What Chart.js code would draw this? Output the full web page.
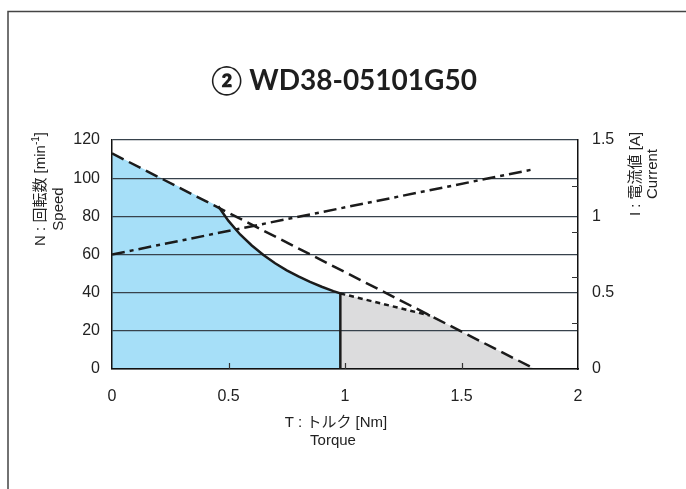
<!DOCTYPE html>
<html>
<head>
<meta charset="utf-8">
<script src="https://cdn.jsdelivr.net/npm/chart.js@4.4.1/dist/chart.umd.min.js"></script>
<style>
html, body { margin: 0; padding: 0; background: #fff; }
#wrap { width: 686px; height: 489px; }
</style>
</head>
<body>
<div id="wrap"><canvas id="myChart" width="686" height="489"></canvas></div>
<script>
// values
var torqueTicks = [0.5, 1, 1.5];          // small inner ticks on the x axis
var currentMinorTicks = [0.3, 0.6, 0.9, 1.2]; // small inner ticks on the right axis

var speedTorque = [0, 1.815];
var speedValues = [113, 0];

var currentTorque = [0, 1.815];
var currentValues = [0.75, 1.31];

var curveTorque = [0.456, 0.5, 0.55, 0.6, 0.65, 0.7, 0.75, 0.8, 0.85, 0.9, 0.95, 0.98, 0.98];
var curveSpeed = [85.3, 77.6, 70.5, 64.7, 59.7, 55.4, 51.7, 48.5, 45.6, 43.1, 40.8, 39.6, 0];

var dotTorque = [0.98, 1.365];
var dotSpeed = [39.6, 28];

var grayTorque = [0.98, 1.365, 1.815];
var graySpeed = [39.6, 28, 0];

function pts(xs, ys) {
	var out = [];
	for (var i = 0; i < xs.length; i++) out.push({ x: xs[i], y: ys[i] });
	return out;
}

var bluePts = [{ x: speedTorque[0], y: speedValues[0] }].concat(pts(curveTorque, curveSpeed));

var LINE = "#1b1b1b";
var TICKFONT = { family: "'Liberation Sans', Arial, sans-serif", size: 16 };

function plainLabel(v) {
	return String(v);
}

var decor = {
	id: "decor",
	beforeDraw: function (chart) {
		var c = chart.ctx;
		c.save();
		c.strokeStyle = "#444";
		c.lineWidth = 1.5;
		c.beginPath();
		c.moveTo(8, 489);
		c.lineTo(8, 11.5);
		c.lineTo(686, 11.5);
		c.stroke();
		c.restore();
	},
	afterDraw: function (chart) {
		var c = chart.ctx;
		var xs = chart.scales.x, y2 = chart.scales.y2;
		var area = chart.chartArea;
		c.save();
		// inner ticks
		c.strokeStyle = "#333";
		c.lineWidth = 1.2;
		c.beginPath();
		torqueTicks.forEach(function (t) {
			var px = Math.round(xs.getPixelForValue(t)) + 0.5;
			c.moveTo(px, area.bottom);
			c.lineTo(px, area.bottom - 6);
		});
		currentMinorTicks.forEach(function (t) {
			var py = Math.round(y2.getPixelForValue(t)) + 0.5;
			c.moveTo(area.right, py);
			c.lineTo(area.right - 6, py);
		});
		c.stroke();

		// title
		c.fillStyle = "#1e1e1e";
		c.textAlign = "center";
		c.textBaseline = "middle";
		c.font = "bold 28px Lato, 'DejaVu Sans', sans-serif";
		c.fillText("② WD38-05101G50", 344, 81);

		// x axis title
		c.fillStyle = "#222";
		c.font = "15px 'Liberation Sans', 'Noto Sans CJK JP', sans-serif";
		c.fillText("T : トルク [Nm]", 336, 423);
		c.fillText("Torque", 333, 441);

		// left axis title
		c.save();
		c.translate(41, 189);
		c.rotate(-Math.PI / 2);
		var f = "15px 'Liberation Sans', 'Noto Sans CJK JP', sans-serif";
		var fs = "10px 'Liberation Sans', sans-serif";
		c.font = f;
		var a = "N : 回転数 [min", b = "]";
		c.font = fs;
		var sw = c.measureText("-1").width;
		c.font = f;
		var w = c.measureText(a).width + sw + c.measureText(b).width;
		var x0 = -w / 2;
		c.textAlign = "left";
		c.fillText(a, x0, 0);
		x0 += c.measureText(a).width;
		c.font = fs;
		c.fillText("-1", x0, -5);
		x0 += sw;
		c.font = f;
		c.fillText(b, x0, 0);
		c.textAlign = "center";
		c.fillText("Speed", -20, 18);
		c.restore();

		// right axis title
		c.save();
		c.translate(636, 174);
		c.rotate(-Math.PI / 2);
		c.font = f;
		c.fillText("I : 電流値 [A]", 0, 0);
		c.fillText("Current", 0, 17);
		c.restore();

		c.restore();
	}
};

var ctx = document.getElementById("myChart").getContext("2d");
var myChart = new Chart(ctx, {
	type: "scatter",
	data: {
		datasets: [
			{
				data: bluePts,
				showLine: true,
				borderWidth: 0,
				pointRadius: 0,
				fill: "origin",
				backgroundColor: "#a6dff8",
				yAxisID: "y",
			},
			{
				data: pts(grayTorque, graySpeed),
				showLine: true,
				borderWidth: 0,
				pointRadius: 0,
				fill: "origin",
				backgroundColor: "#dcdcdd",
				yAxisID: "y",
			},
			{
				data: pts(curveTorque, curveSpeed),
				showLine: true,
				borderColor: LINE,
				borderWidth: 2.5,
				pointRadius: 0,
				fill: false,
				yAxisID: "y",
			},
			{
				data: pts(dotTorque, dotSpeed),
				showLine: true,
				borderColor: LINE,
				borderWidth: 2.5,
				borderDash: [5, 4],
				pointRadius: 0,
				fill: false,
				yAxisID: "y",
			},
			{
				data: pts(speedTorque, speedValues),
				showLine: true,
				borderColor: LINE,
				borderWidth: 2.5,
				borderDash: [13, 6],
				pointRadius: 0,
				fill: false,
				yAxisID: "y",
			},
			{
				data: pts(currentTorque, currentValues),
				showLine: true,
				borderColor: LINE,
				borderWidth: 2.5,
				borderDash: [13, 5, 4, 5],
				pointRadius: 0,
				fill: false,
				yAxisID: "y2",
			},
		],
	},
	options: {
		responsive: false,
		animation: false,
		layout: { padding: { top: 140, left: 0, right: 0, bottom: 0 } },
		plugins: {
			legend: { display: false },
			tooltip: { enabled: false },
			filler: { drawTime: "beforeDraw" },
		},
		scales: {
			x: {
				type: "linear",
				min: 0,
				max: 2,
				ticks: {
					stepSize: 0.5,
					color: "#222",
					padding: 18,
					font: TICKFONT,
					callback: plainLabel,
				},
				grid: { display: false, drawTicks: false },
				border: { display: true, color: "#111", width: 1.5 },
				afterFit: function (s) { s.height = 120; },
			},
			y: {
				position: "left",
				min: 0,
				max: 120,
				ticks: {
					stepSize: 20,
					color: "#222",
					padding: 12,
					font: TICKFONT,
					callback: plainLabel,
				},
				grid: { color: "#37424c", lineWidth: 1.2, drawTicks: false },
				border: { display: true, color: "#111", width: 1.5 },
				afterFit: function (s) { s.width = 112; },
			},
			y2: {
				position: "right",
				min: 0,
				max: 1.5,
				ticks: {
					stepSize: 0.5,
					color: "#222",
					padding: 14,
					font: TICKFONT,
					callback: plainLabel,
				},
				grid: { display: false, drawTicks: false },
				border: { display: true, color: "#111", width: 1.5 },
				afterFit: function (s) { s.width = 108; },
			},
		},
	},
	plugins: [decor],
});
</script>
</body>
</html>
